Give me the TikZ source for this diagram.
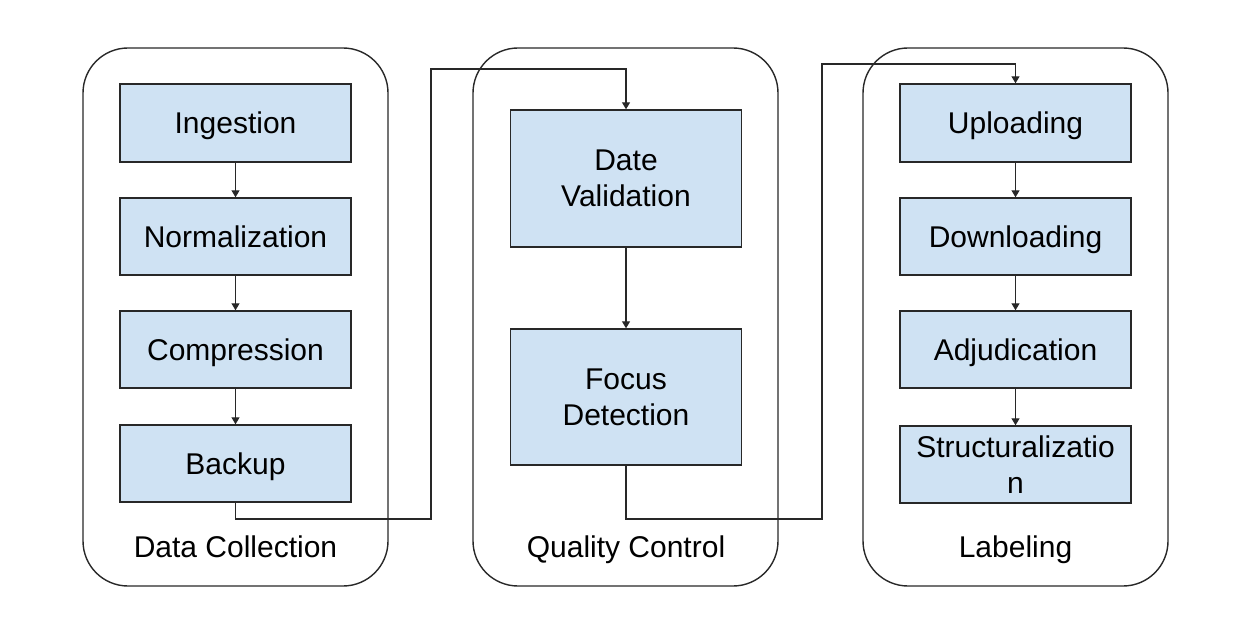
\documentclass[tikz,border=0pt]{standalone}
\usepackage{fontspec}
\setmainfont{Liberation Sans}
\usetikzlibrary{arrows.meta}
\definecolor{boxfill}{RGB}{207,226,243}
\definecolor{edge}{RGB}{40,40,40}
\begin{document}
\begin{tikzpicture}[x=1pt,y=-1pt,
  font=\fontsize{30}{36}\selectfont,
  container/.style={draw=edge,line width=1.4pt,rounded corners=45pt},
  stepbox/.style={draw=edge,fill=boxfill,line width=1.4pt,inner sep=0pt,
    minimum width=231pt,align=center,text width=229pt},
  onebox/.style={stepbox,text height=21.5pt,text depth=0pt},
  conn/.style={draw=edge,line width=1.2pt,-{Triangle[length=7pt,width=8pt]}},
  caption/.style={inner sep=0pt,anchor=base}]
\useasboundingbox (0,0) rectangle (1236,628);
% containers
\draw[container] (83,48) rectangle (388,586);
\draw[container] (473,48) rectangle (778,586);
\draw[container] (863,48) rectangle (1168,586);
% data collection
\node[onebox,minimum height=78pt] (ing) at (235.5,123) {Ingestion};
\node[onebox,minimum height=77pt] (nor) at (235.5,236.5) {Normalization};
\node[onebox,minimum height=77pt] (com) at (235.5,349.5) {Compression};
\node[onebox,minimum height=77pt] (bak) at (235.5,463.5) {Backup};
\node[caption] (c1) at (235.5,557) {Data Collection};
% quality control
\node[stepbox,minimum height=137pt] (dat) at (626,178.5) {Date\\Validation};
\node[stepbox,minimum height=136pt] (foc) at (626,397) {Focus\\Detection};
\node[caption] (c2) at (626,557) {Quality Control};
% labeling
\node[onebox,minimum height=78pt] (upl) at (1015.5,123) {Uploading};
\node[onebox,minimum height=77pt] (dow) at (1015.5,236.5) {Downloading};
\node[onebox,minimum height=77pt] (adj) at (1015.5,349.5) {Adjudication};
\node[stepbox,minimum height=77pt] (str) at (1015.5,464.5) {Structuralizatio\\n};
\node[caption] (c3) at (1015.5,557) {Labeling};
% arrows inside
\draw[conn] (ing) -- (nor);
\draw[conn] (nor) -- (com);
\draw[conn] (com) -- (bak);
\draw[conn] (dat) -- (foc);
\draw[conn] (upl) -- (dow);
\draw[conn] (dow) -- (adj);
\draw[conn] (adj) -- (str);
% connectors between groups
\coordinate (a1) at (235.5,519);
\coordinate (a2) at (431,519);
\coordinate (a3) at (431,69);
\coordinate (a4) at (626,69);
\draw[conn] (bak.south) -- (a1) -- (a2) -- (a3) -- (a4) -- (dat.north);
\coordinate (b1) at (626,519);
\coordinate (b2) at (822,519);
\coordinate (b3) at (822,64);
\coordinate (b4) at (1015.5,64);
\draw[conn] (foc.south) -- (b1) -- (b2) -- (b3) -- (b4) -- (upl.north);
\end{tikzpicture}
\end{document}
